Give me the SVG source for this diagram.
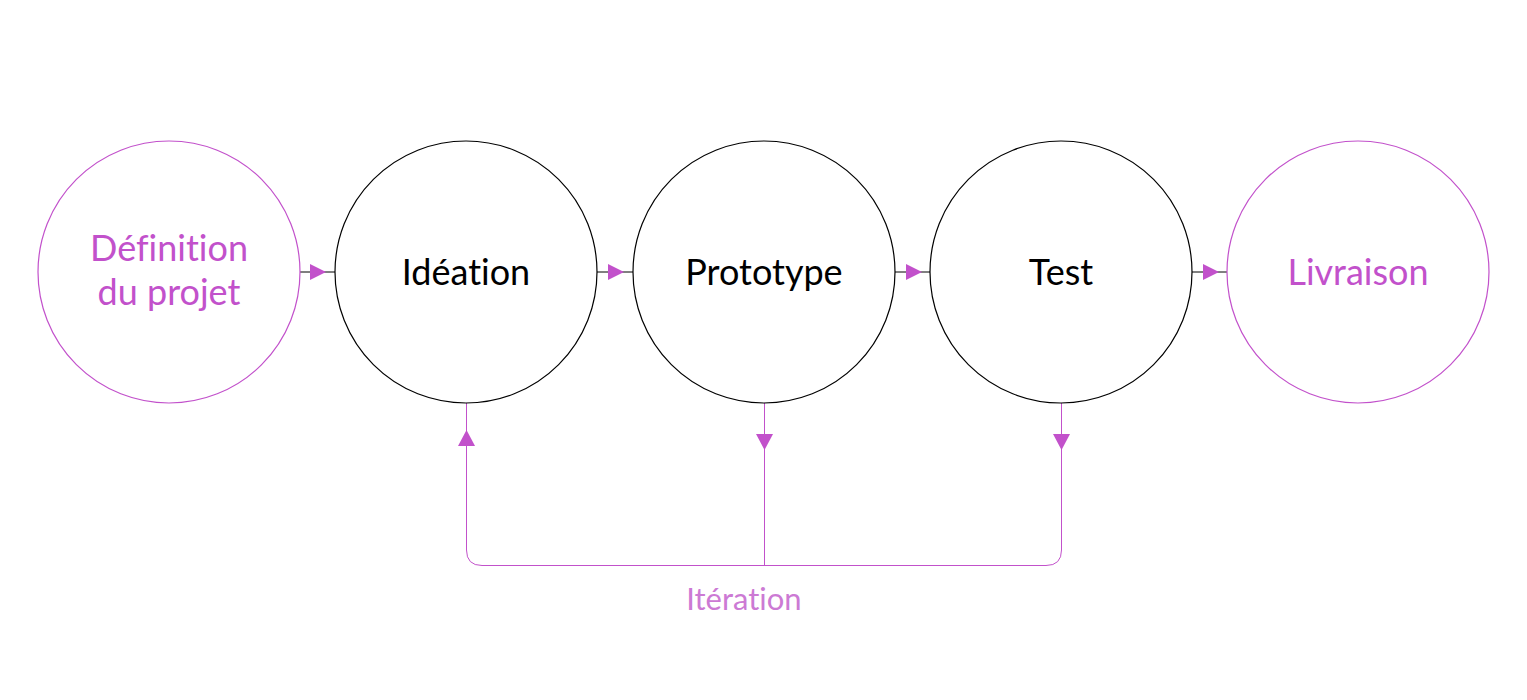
<svg xmlns="http://www.w3.org/2000/svg" width="1527" height="700" viewBox="0 0 1527 700">
<style>
.pc{fill:#fff;stroke:#C251CB;stroke-width:1.2}
.bc{fill:#fff;stroke:#000;stroke-width:1.2}
.t{font-family:Lato,"Open Sans",sans-serif;font-size:36px;text-anchor:middle;font-variant-ligatures:none}
.pt{fill:#C251CB}
.bt{fill:#000}
.hl{stroke:#000;stroke-width:1}
.vl{stroke:#C251CB;stroke-width:1;fill:none}
.ar{fill:#C251CB}
</style>
<rect width="1527" height="700" fill="#fff"/>
<g id="connectors">
<line class="hl" x1="300" y1="272" x2="335" y2="272"/>
<polygon class="ar" points="310,264 326,272 310,280"/>
<line class="hl" x1="597" y1="272" x2="633" y2="272"/>
<polygon class="ar" points="608,264 624,272 608,280"/>
<line class="hl" x1="895" y1="272" x2="930" y2="272"/>
<polygon class="ar" points="906,264 922,272 906,280"/>
<line class="hl" x1="1192" y1="272" x2="1228" y2="272"/>
<polygon class="ar" points="1203,264 1219,272 1203,280"/>
<path class="vl" d="M466.5,403 V550 Q466.5,565.5 482,565.5 H1046 Q1061.5,565.5 1061.5,550 V403"/>
<line class="vl" x1="764.5" y1="403" x2="764.5" y2="565"/>
<polygon class="ar" points="458,446 466.5,430 475,446"/>
<polygon class="ar" points="756,434 764.5,450 773,434"/>
<polygon class="ar" points="1053,434 1061.5,450 1070,434"/>
<text x="744" y="610" style="font-family:Lato,'Open Sans',sans-serif;font-size:31px;text-anchor:middle;fill:#CC7AD4;font-variant-ligatures:none">Itération</text>
</g>
<g id="node-definition">
<circle class="pc" cx="169" cy="272" r="131"/>
<text class="t pt" x="169" y="261">Définition</text>
<text class="t pt" x="169" y="305">du projet</text>
</g>
<g id="node-ideation">
<circle class="bc" cx="466" cy="272" r="131"/>
<text class="t bt" x="466" y="285">Idéation</text>
</g>
<g id="node-prototype">
<circle class="bc" cx="764" cy="272" r="131"/>
<text class="t bt" x="764" y="285">Prototype</text>
</g>
<g id="node-test">
<circle class="bc" cx="1061" cy="272" r="131"/>
<text class="t bt" x="1061" y="285">Test</text>
</g>
<g id="node-livraison">
<circle class="pc" cx="1358" cy="272" r="131"/>
<text class="t pt" x="1358" y="285">Livraison</text>
</g>
</svg>
